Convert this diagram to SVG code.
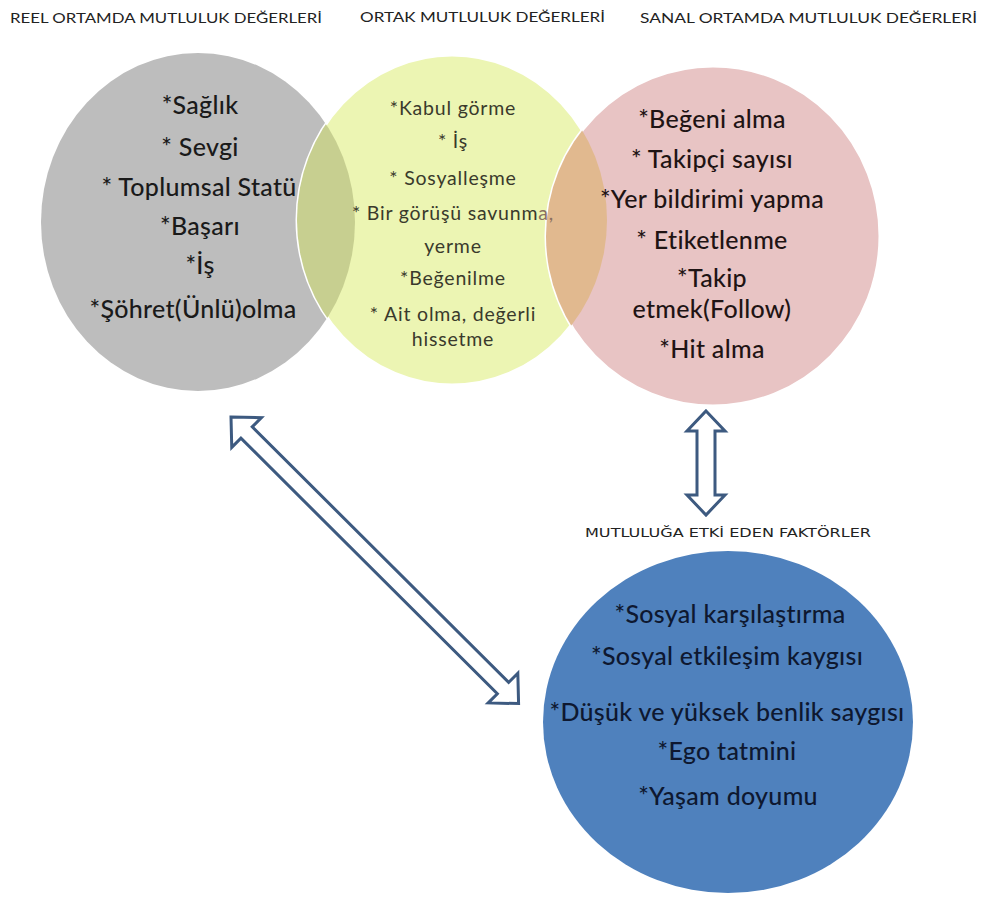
<svg xmlns="http://www.w3.org/2000/svg" width="1000" height="898" viewBox="0 0 1000 898">
<style>
.hdr{font-family:Lato,"Liberation Sans",sans-serif;font-size:14px;fill:#222}
.big{font-family:Lato,"Liberation Sans",sans-serif;font-size:25px;letter-spacing:0.3px;text-anchor:middle;font-weight:500}
.sm{font-family:Lato,"Liberation Sans",sans-serif;font-size:19.5px;letter-spacing:0.8px;text-anchor:middle;fill:#3a3a2c}
.arrow{fill:#ffffff;stroke:#3d5a80;stroke-width:3;stroke-linejoin:miter}
</style>
<defs>
<ellipse id="eGrey" cx="198" cy="222" rx="157" ry="169"/>
<ellipse id="eYellow" cx="452" cy="220" rx="155" ry="165"/>
<ellipse id="ePink" cx="713" cy="236" rx="167" ry="170"/>
<clipPath id="cYellow"><use href="#eYellow"/></clipPath>
</defs>
<rect width="1000" height="898" fill="#ffffff"/>
<g id="headers">
<text class="hdr" x="10" y="23" textLength="312" lengthAdjust="spacingAndGlyphs">REEL ORTAMDA MUTLULUK  DEĞERLERİ</text>
<text class="hdr" x="360" y="22" textLength="245" lengthAdjust="spacingAndGlyphs">ORTAK MUTLULUK  DEĞERLERİ</text>
<text class="hdr" x="640" y="23" textLength="337" lengthAdjust="spacingAndGlyphs">SANAL  ORTAMDA MUTLULUK  DEĞERLERİ</text>
</g>
<g id="circles">
<use href="#eGrey" fill="#bdbdbd"/>
<use href="#eYellow" fill="#ecf5b3" stroke="#ffffff" stroke-width="3"/>
<use href="#eGrey" fill="#c7cf90" clip-path="url(#cYellow)"/>
<use href="#ePink" fill="#e8c4c4" stroke="#ffffff" stroke-width="3"/>
<use href="#ePink" fill="#e1b98f" clip-path="url(#cYellow)"/>
</g>
<g id="node-reel">
<text class="big" fill="#1a1a1a"><tspan x="200" y="114">*Sağlık</tspan><tspan x="200" y="156">* Sevgi</tspan><tspan x="199" y="196">* Toplumsal Statü</tspan><tspan x="200" y="235">*Başarı</tspan><tspan x="200" y="274">*İş</tspan><tspan x="193" y="318">*Şöhret(Ünlü)olma</tspan></text>
</g>
<g id="node-ortak">
<text class="sm"><tspan x="453" y="115">*Kabul görme</tspan><tspan x="453" y="148">* İş</tspan><tspan x="453" y="185">* Sosyalleşme</tspan><tspan x="453" y="220">* Bir görüşü savunm<tspan fill="#8a7060">a,</tspan></tspan><tspan x="453" y="253">yerme</tspan><tspan x="453" y="285">*Beğenilme</tspan><tspan x="453" y="321">* Ait olma, değerli</tspan><tspan x="453" y="346">hissetme</tspan></text>
</g>
<g id="node-sanal">
<text class="big" fill="#1f1414"><tspan x="712" y="128">*Beğeni alma</tspan><tspan x="712" y="168">* Takipçi sayısı</tspan><tspan x="712" y="208">*Yer bildirimi yapma</tspan><tspan x="712" y="249">* Etiketlenme</tspan><tspan x="712" y="287">*Takip</tspan><tspan x="712" y="318">etmek(Follow)</tspan><tspan x="712" y="358">*Hit alma</tspan></text>
</g>
<g id="connectors">
<path class="arrow" transform="translate(706,411) rotate(90)" d="M0,0 L20,-19 L20,-9 L84,-9 L84,-19 L104,0 L84,19 L84,9 L20,9 L20,19 Z"/>
<path class="arrow" transform="translate(231,417) rotate(44.9)" d="M0,0 L22,-21 L22,-8 L384,-8 L384,-21 L406,0 L384,21 L384,8 L22,8 L22,21 Z"/>
</g>
<g id="node-faktorler">
<text x="585" y="537" font-family="'DejaVu Sans',sans-serif" font-size="12" fill="#222" textLength="286" lengthAdjust="spacingAndGlyphs">MUTLULUĞA ETKİ EDEN FAKTÖRLER</text>
<ellipse cx="728" cy="722" rx="185" ry="171" fill="#4f81bd"/>
<text class="big" fill="#0e1830"><tspan x="730" y="623">*Sosyal karşılaştırma</tspan><tspan x="727" y="665">*Sosyal etkileşim kaygısı</tspan><tspan x="727" y="721">*Düşük ve yüksek benlik saygısı</tspan><tspan x="727" y="760">*Ego tatmini</tspan><tspan x="728" y="805">*Yaşam doyumu</tspan></text>
</g>
</svg>
